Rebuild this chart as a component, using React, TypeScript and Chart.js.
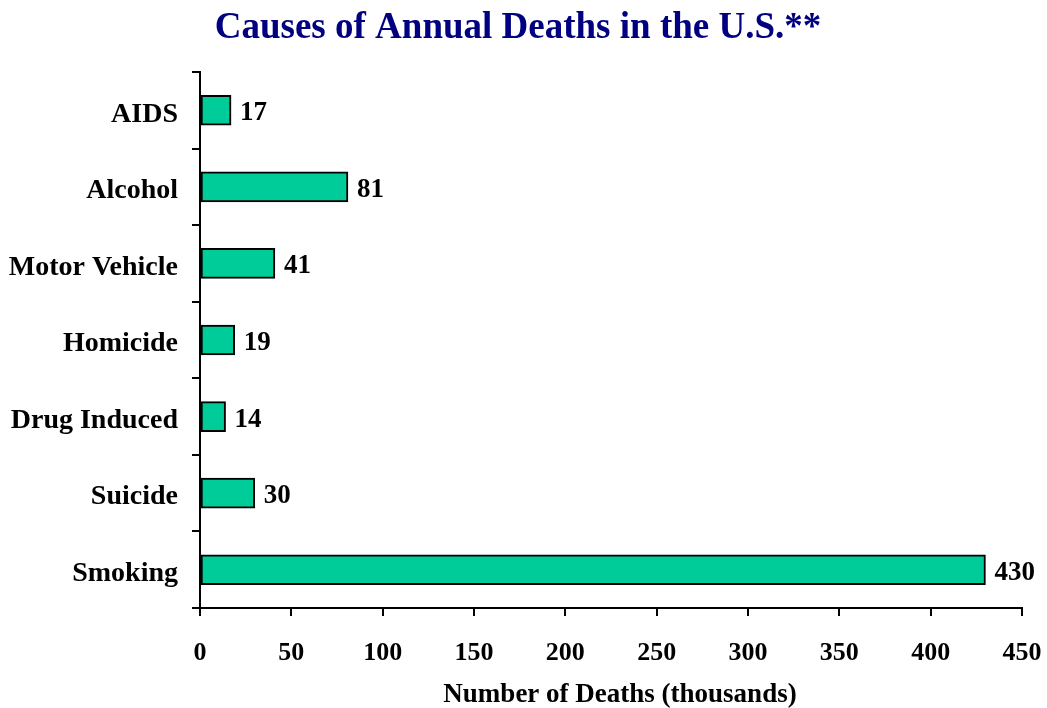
import React, { useEffect, useRef } from "react";
import { Chart, registerables } from "chart.js";

Chart.register(...registerables);

const categories = ["AIDS", "Alcohol", "Motor Vehicle", "Homicide", "Drug Induced", "Suicide", "Smoking"];
const deaths = [17, 81, 41, 19, 14, 30, 430];
const chartTitle = "Causes of Annual Deaths in the U.S.**";
const xAxisTitle = "Number of Deaths (thousands)";

const FONT = "'Liberation Serif', 'Times New Roman', serif";

export default function App() {
  const ref = useRef<HTMLCanvasElement | null>(null);

  useEffect(() => {
    if (!ref.current) return;
    const labelPlugin = {
      id: "customLabels",
      afterDraw(chart: any) {
        const ctx = chart.ctx;
        ctx.save();
        ctx.fillStyle = "#000080";
        ctx.font = `bold 37px ${FONT}`;
        ctx.textAlign = "center";
        ctx.textBaseline = "alphabetic";
        ctx.fillText(chartTitle, 518, 38);

        ctx.fillStyle = "#000000";
        ctx.font = `bold 27px ${FONT}`;
        ctx.textAlign = "center";
        ctx.textBaseline = "alphabetic";
        ctx.fillText(xAxisTitle, 620, 702);

        const meta = chart.getDatasetMeta(0);
        ctx.font = `bold 27px ${FONT}`;
        ctx.textAlign = "left";
        ctx.textBaseline = "middle";
        meta.data.forEach((el: any, i: number) => {
          ctx.fillText(String(deaths[i]), el.x + 9, el.y + 3);
        });
        ctx.restore();
      },
    };

    const chart = new Chart(ref.current, {
      type: "bar",
      data: {
        labels: categories,
        datasets: [
          {
            data: deaths,
            backgroundColor: "#00CC99",
            borderColor: "#000000",
            borderWidth: 2,
            borderSkipped: false,
            barThickness: 30,
          },
        ],
      },
      options: {
        indexAxis: "y",
        responsive: false,
        animation: false,
        layout: { padding: { top: 72, right: 25, left: 0, bottom: 0 } },
        plugins: {
          legend: { display: false },
          title: { display: false },
          tooltip: { enabled: false },
        },
        scales: {
          x: {
            min: 0,
            max: 450,
            ticks: {
              stepSize: 50,
              color: "#000000",
              font: { family: FONT, size: 26, weight: "bold" },
              padding: 22,
              maxRotation: 0,
            },
            grid: {
              drawOnChartArea: false,
              drawTicks: true,
              tickLength: 8,
              color: "#000000",
              lineWidth: 2,
            },
            border: { display: true, color: "#000000", width: 2 },
            afterFit(scale: any) {
              scale.height = 100;
              scale.paddingLeft = 0;
              scale.paddingRight = 0;
            },
          },
          y: {
            ticks: {
              color: "#000000",
              font: { family: FONT, size: 28, weight: "bold" },
              padding: 14,
              labelOffset: 4,
            },
            grid: {
              offset: true,
              drawOnChartArea: false,
              drawTicks: true,
              tickLength: 8,
              color: "#000000",
              lineWidth: 2,
            },
            border: { display: true, color: "#000000", width: 2 },
            afterFit(scale: any) {
              scale.width = 200;
              scale.paddingTop = 0;
              scale.paddingBottom = 0;
            },
          },
        },
      },
      plugins: [labelPlugin],
    } as any);
    return () => chart.destroy();
  }, []);

  return (
    <div style={{ position: "fixed", left: 0, top: 0, width: 1047, height: 708, background: "#ffffff" }}>
      <canvas ref={ref} width={1047} height={708} />
    </div>
  );
}
